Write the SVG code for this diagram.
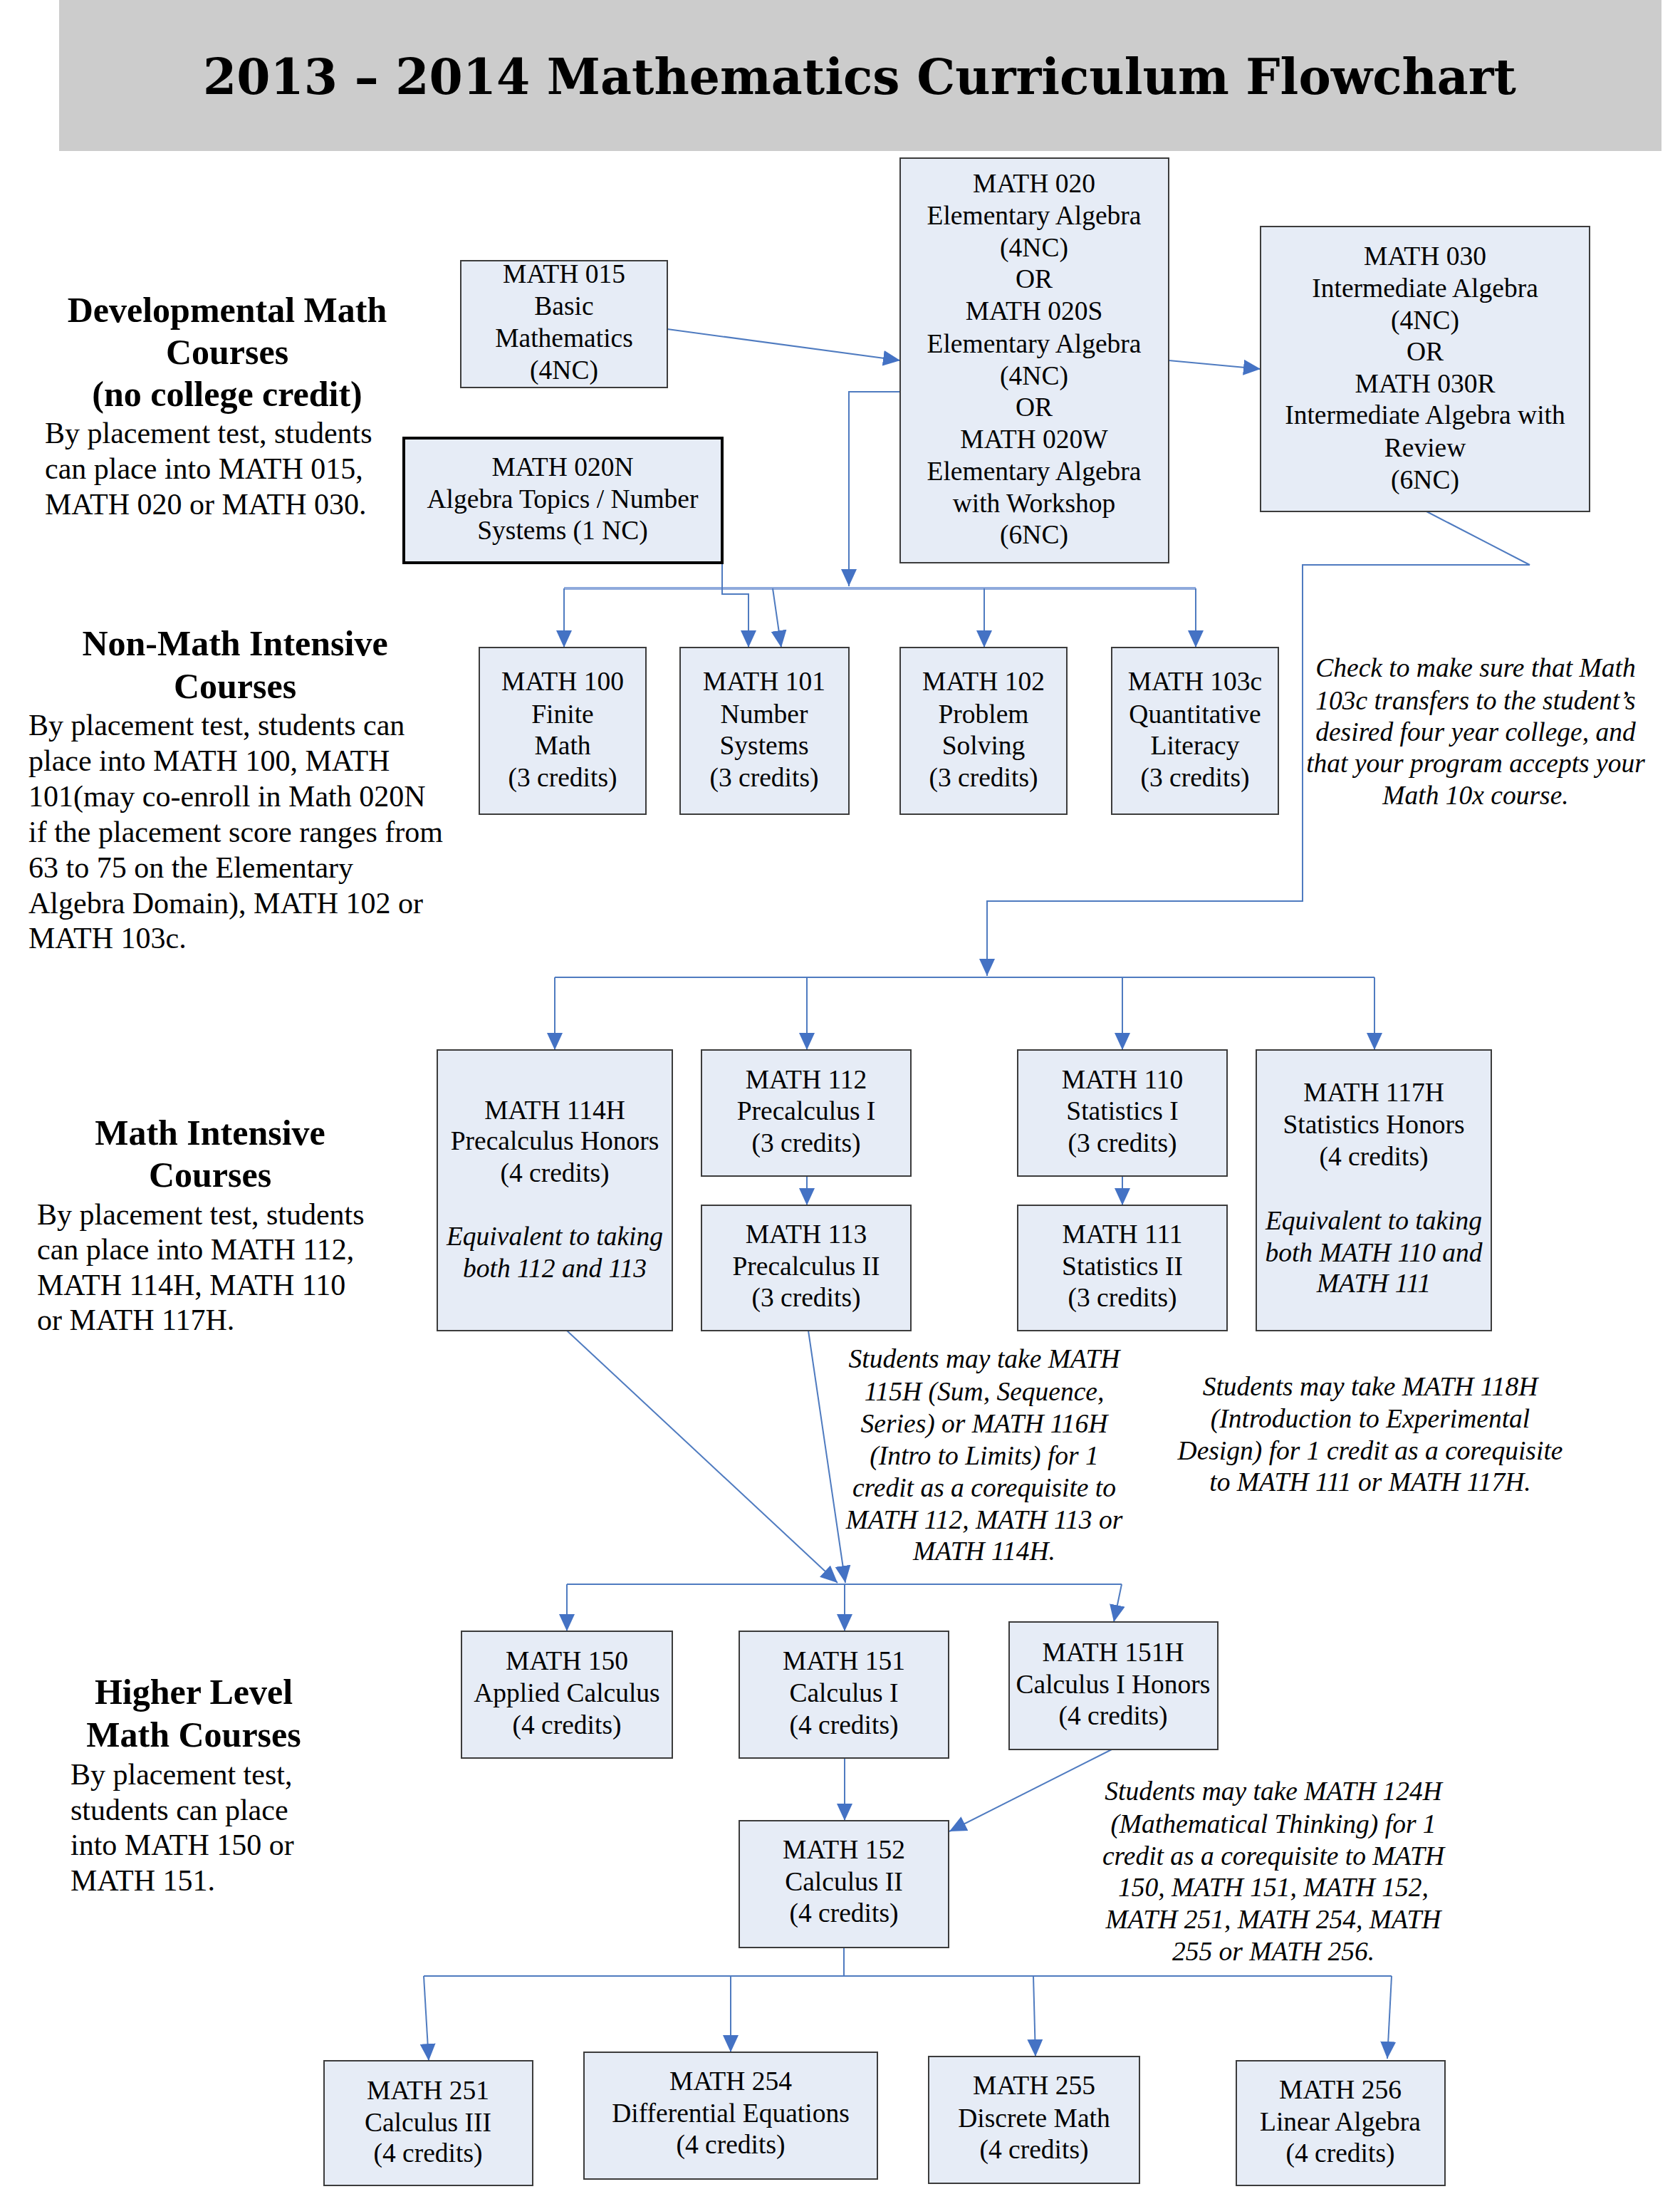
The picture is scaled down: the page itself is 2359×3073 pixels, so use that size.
<svg xmlns="http://www.w3.org/2000/svg" width="2359" height="3073" viewBox="0 0 2359 3073">
<style>
.box{fill:#E6ECF6;stroke:#3c3c3c;stroke-width:2}
.thick{fill:#E6ECF6;stroke:#000;stroke-width:4}
.t{font-family:"Liberation Serif","Times New Roman",serif;font-size:37.5px;fill:#000;text-anchor:middle}
.i{font-style:italic}
.h{font-family:"Liberation Serif","Times New Roman",serif;font-size:50px;font-weight:bold;fill:#000;text-anchor:middle}
.b{font-family:"Liberation Serif","Times New Roman",serif;font-size:42px;fill:#000}
.c{fill:none;stroke:#4F7BC0;stroke-width:2}
.cl{fill:none;stroke:#8FAADC;stroke-width:4}
</style>
<defs>
<marker id="ah" viewBox="0 0 24 22" refX="24" refY="11" markerWidth="24" markerHeight="22" markerUnits="userSpaceOnUse" orient="auto">
<path d="M0,0 L24,11 L0,22 z" fill="#4472C4"/>
</marker>
</defs>
<rect x="83" y="0" width="2250" height="212" fill="#CCCCCC"/>
<text x="1207" y="132" font-family="DejaVu Serif, serif" font-weight="bold" font-size="70" text-anchor="middle" textLength="1844" lengthAdjust="spacingAndGlyphs">2013 – 2014 Mathematics Curriculum Flowchart</text>

<g id="sec-dev">
<text class="h" x="319" y="452">Developmental Math</text>
<text class="h" x="319" y="511">Courses</text>
<text class="h" x="319" y="570">(no college credit)</text>
<text class="b" x="63" y="622">By placement test, students</text>
<text class="b" x="63" y="672">can place into MATH 015,</text>
<text class="b" x="63" y="722">MATH 020 or MATH 030.</text>
</g>
<g id="sec-nonmath">
<text class="h" x="330" y="920">Non-Math Intensive</text>
<text class="h" x="330" y="980">Courses</text>
<text class="b" x="40" y="1032">By placement test, students can</text>
<text class="b" x="40" y="1082">place into MATH 100, MATH</text>
<text class="b" x="40" y="1132">101(may co-enroll in Math 020N</text>
<text class="b" x="40" y="1182">if the placement score ranges from</text>
<text class="b" x="40" y="1232">63 to 75 on the Elementary</text>
<text class="b" x="40" y="1282">Algebra Domain), MATH 102 or</text>
<text class="b" x="40" y="1331">MATH 103c.</text>
</g>
<g id="sec-intensive">
<text class="h" x="295" y="1607">Math Intensive</text>
<text class="h" x="295" y="1666">Courses</text>
<text class="b" x="52" y="1719">By placement test, students</text>
<text class="b" x="52" y="1768">can place into MATH 112,</text>
<text class="b" x="52" y="1818">MATH 114H, MATH 110</text>
<text class="b" x="52" y="1867">or MATH 117H.</text>
</g>
<g id="sec-higher">
<text class="h" x="272" y="2392">Higher Level</text>
<text class="h" x="272" y="2452">Math Courses</text>
<text class="b" x="99" y="2505">By placement test,</text>
<text class="b" x="99" y="2555">students can place</text>
<text class="b" x="99" y="2604">into MATH 150 or</text>
<text class="b" x="99" y="2654">MATH 151.</text>
</g>

<g id="connectors">
<line class="c" x1="937" y1="462" x2="1264" y2="506" marker-end="url(#ah)"/>
<line class="c" x1="1641" y1="506" x2="1770" y2="518" marker-end="url(#ah)"/>
<polyline class="c" points="1264,550 1192,550 1192,823" marker-end="url(#ah)"/>
<line class="cl" x1="792" y1="826" x2="1679" y2="826"/>
<polyline class="c" points="792,826 792,909" marker-end="url(#ah)"/>
<polyline class="c" points="1679,826 1679,909" marker-end="url(#ah)"/>
<polyline class="c" points="1382,826 1382,909" marker-end="url(#ah)"/>
<line class="c" x1="1085" y1="826" x2="1097" y2="909" marker-end="url(#ah)"/>
<polyline class="c" points="1014,790 1014,834 1051,834 1051,909" marker-end="url(#ah)"/>
<polyline class="c" points="2003,718 2148,793 1829,793 1829,1265 1386,1265 1386,1370" marker-end="url(#ah)"/>
<line class="c" x1="779" y1="1372" x2="1930" y2="1372"/>
<polyline class="c" points="779,1372 779,1474" marker-end="url(#ah)"/>
<polyline class="c" points="1133,1372 1133,1474" marker-end="url(#ah)"/>
<polyline class="c" points="1576,1372 1576,1474" marker-end="url(#ah)"/>
<polyline class="c" points="1930,1372 1930,1474" marker-end="url(#ah)"/>
<line class="c" x1="1133" y1="1651" x2="1133" y2="1692" marker-end="url(#ah)"/>
<line class="c" x1="1576" y1="1651" x2="1576" y2="1692" marker-end="url(#ah)"/>
<line class="c" x1="796" y1="1868" x2="1176" y2="2222" marker-end="url(#ah)"/>
<line class="c" x1="1135" y1="1868" x2="1187" y2="2222" marker-end="url(#ah)"/>
<line class="c" x1="796" y1="2224" x2="1575" y2="2224"/>
<polyline class="c" points="796,2224 796,2290" marker-end="url(#ah)"/>
<polyline class="c" points="1186,2224 1186,2290" marker-end="url(#ah)"/>
<polyline class="c" points="1575,2224 1564,2277" marker-end="url(#ah)"/>
<line class="c" x1="1186" y1="2468" x2="1186" y2="2556" marker-end="url(#ah)"/>
<line class="c" x1="1561" y1="2456" x2="1333" y2="2571" marker-end="url(#ah)"/>
<line class="c" x1="1185" y1="2734" x2="1185" y2="2774"/>
<line class="c" x1="595" y1="2774" x2="1954" y2="2774"/>
<line class="c" x1="595" y1="2774" x2="602" y2="2893" marker-end="url(#ah)"/>
<line class="c" x1="1026" y1="2774" x2="1026" y2="2881" marker-end="url(#ah)"/>
<line class="c" x1="1451" y1="2774" x2="1454" y2="2887" marker-end="url(#ah)"/>
<line class="c" x1="1954" y1="2774" x2="1948" y2="2890" marker-end="url(#ah)"/>
</g>

<g id="math015">
<rect class="box" x="647" y="366" width="290" height="178"/>
<text class="t" x="792" y="397">MATH 015</text>
<text class="t" x="792" y="442">Basic</text>
<text class="t" x="792" y="487">Mathematics</text>
<text class="t" x="792" y="532">(4NC)</text>
</g>
<g id="math020n">
<rect class="thick" x="567" y="615" width="447" height="175"/>
<text class="t" x="790" y="668">MATH 020N</text>
<text class="t" x="790" y="713">Algebra Topics / Number</text>
<text class="t" x="790" y="757">Systems (1 NC)</text>
</g>
<g id="math020">
<rect class="box" x="1264" y="222" width="377" height="568"/>
<text class="t" x="1452" y="270">MATH 020</text>
<text class="t" x="1452" y="315">Elementary Algebra</text>
<text class="t" x="1452" y="360">(4NC)</text>
<text class="t" x="1452" y="404">OR</text>
<text class="t" x="1452" y="449">MATH 020S</text>
<text class="t" x="1452" y="495">Elementary Algebra</text>
<text class="t" x="1452" y="540">(4NC)</text>
<text class="t" x="1452" y="584">OR</text>
<text class="t" x="1452" y="629">MATH 020W</text>
<text class="t" x="1452" y="674">Elementary Algebra</text>
<text class="t" x="1452" y="719">with Workshop</text>
<text class="t" x="1452" y="763">(6NC)</text>
</g>
<g id="math030">
<rect class="box" x="1770" y="318" width="462" height="400"/>
<text class="t" x="2001" y="372">MATH 030</text>
<text class="t" x="2001" y="417">Intermediate Algebra</text>
<text class="t" x="2001" y="462">(4NC)</text>
<text class="t" x="2001" y="506">OR</text>
<text class="t" x="2001" y="551">MATH 030R</text>
<text class="t" x="2001" y="595">Intermediate Algebra with</text>
<text class="t" x="2001" y="641">Review</text>
<text class="t" x="2001" y="686">(6NC)</text>
</g>

<g id="math100">
<rect class="box" x="673" y="909" width="234" height="234"/>
<text class="t" x="790" y="969">MATH 100</text>
<text class="t" x="790" y="1015">Finite</text>
<text class="t" x="790" y="1059">Math</text>
<text class="t" x="790" y="1104">(3 credits)</text>
</g>
<g id="math101">
<rect class="box" x="955" y="909" width="237" height="234"/>
<text class="t" x="1073" y="969">MATH 101</text>
<text class="t" x="1073" y="1015">Number</text>
<text class="t" x="1073" y="1059">Systems</text>
<text class="t" x="1073" y="1104">(3 credits)</text>
</g>
<g id="math102">
<rect class="box" x="1264" y="909" width="234" height="234"/>
<text class="t" x="1381" y="969">MATH 102</text>
<text class="t" x="1381" y="1015">Problem</text>
<text class="t" x="1381" y="1059">Solving</text>
<text class="t" x="1381" y="1104">(3 credits)</text>
</g>
<g id="math103c">
<rect class="box" x="1561" y="909" width="234" height="234"/>
<text class="t" x="1678" y="969">MATH 103c</text>
<text class="t" x="1678" y="1015">Quantitative</text>
<text class="t" x="1678" y="1059">Literacy</text>
<text class="t" x="1678" y="1104">(3 credits)</text>
</g>
<g id="note-103c">
<text class="t i" x="2072" y="950">Check to make sure that Math</text>
<text class="t i" x="2072" y="996">103c transfers to the student’s</text>
<text class="t i" x="2072" y="1040">desired four year college, and</text>
<text class="t i" x="2072" y="1084">that your program accepts your</text>
<text class="t i" x="2072" y="1129">Math 10x course.</text>
</g>

<g id="math114h">
<rect class="box" x="614" y="1474" width="330" height="394"/>
<text class="t" x="779" y="1571">MATH 114H</text>
<text class="t" x="779" y="1614">Precalculus Honors</text>
<text class="t" x="779" y="1659">(4 credits)</text>
<text class="t i" x="779" y="1748">Equivalent to taking</text>
<text class="t i" x="779" y="1793">both 112 and 113</text>
</g>
<g id="math112">
<rect class="box" x="985" y="1474" width="294" height="177"/>
<text class="t" x="1132" y="1528">MATH 112</text>
<text class="t" x="1132" y="1572">Precalculus I</text>
<text class="t" x="1132" y="1617">(3 credits)</text>
</g>
<g id="math113">
<rect class="box" x="985" y="1692" width="294" height="176"/>
<text class="t" x="1132" y="1745">MATH 113</text>
<text class="t" x="1132" y="1790">Precalculus II</text>
<text class="t" x="1132" y="1834">(3 credits)</text>
</g>
<g id="math110">
<rect class="box" x="1429" y="1474" width="294" height="177"/>
<text class="t" x="1576" y="1528">MATH 110</text>
<text class="t" x="1576" y="1572">Statistics I</text>
<text class="t" x="1576" y="1617">(3 credits)</text>
</g>
<g id="math111">
<rect class="box" x="1429" y="1692" width="294" height="176"/>
<text class="t" x="1576" y="1745">MATH 111</text>
<text class="t" x="1576" y="1790">Statistics II</text>
<text class="t" x="1576" y="1834">(3 credits)</text>
</g>
<g id="math117h">
<rect class="box" x="1764" y="1474" width="330" height="394"/>
<text class="t" x="1929" y="1546">MATH 117H</text>
<text class="t" x="1929" y="1591">Statistics Honors</text>
<text class="t" x="1929" y="1636">(4 credits)</text>
<text class="t i" x="1929" y="1726">Equivalent to taking</text>
<text class="t i" x="1929" y="1771">both MATH 110 and</text>
<text class="t i" x="1929" y="1814">MATH 111</text>
</g>
<g id="note-115h">
<text class="t i" x="1382" y="1920">Students may take MATH</text>
<text class="t i" x="1382" y="1966">115H (Sum, Sequence,</text>
<text class="t i" x="1382" y="2011">Series) or MATH 116H</text>
<text class="t i" x="1382" y="2056">(Intro to Limits) for 1</text>
<text class="t i" x="1382" y="2101">credit as a corequisite to</text>
<text class="t i" x="1382" y="2146">MATH 112, MATH 113 or</text>
<text class="t i" x="1382" y="2190">MATH 114H.</text>
</g>
<g id="note-118h">
<text class="t i" x="1924" y="1959">Students may take MATH 118H</text>
<text class="t i" x="1924" y="2004">(Introduction to Experimental</text>
<text class="t i" x="1924" y="2049">Design) for 1 credit as a corequisite</text>
<text class="t i" x="1924" y="2093">to MATH 111 or MATH 117H.</text>
</g>

<g id="math150">
<rect class="box" x="648" y="2290" width="296" height="178"/>
<text class="t" x="796" y="2344">MATH 150</text>
<text class="t" x="796" y="2389">Applied Calculus</text>
<text class="t" x="796" y="2434">(4 credits)</text>
</g>
<g id="math151">
<rect class="box" x="1038" y="2290" width="294" height="178"/>
<text class="t" x="1185" y="2344">MATH 151</text>
<text class="t" x="1185" y="2389">Calculus I</text>
<text class="t" x="1185" y="2434">(4 credits)</text>
</g>
<g id="math151h">
<rect class="box" x="1417" y="2277" width="293" height="179"/>
<text class="t" x="1563" y="2332">MATH 151H</text>
<text class="t" x="1563" y="2377">Calculus I Honors</text>
<text class="t" x="1563" y="2421">(4 credits)</text>
</g>
<g id="math152">
<rect class="box" x="1038" y="2556" width="294" height="178"/>
<text class="t" x="1185" y="2609">MATH 152</text>
<text class="t" x="1185" y="2654">Calculus II</text>
<text class="t" x="1185" y="2698">(4 credits)</text>
</g>
<g id="note-124h">
<text class="t i" x="1788" y="2527">Students may take MATH 124H</text>
<text class="t i" x="1788" y="2573">(Mathematical Thinking) for 1</text>
<text class="t i" x="1788" y="2618">credit as a corequisite to MATH</text>
<text class="t i" x="1788" y="2662">150, MATH 151, MATH 152,</text>
<text class="t i" x="1788" y="2707">MATH 251, MATH 254, MATH</text>
<text class="t i" x="1788" y="2752">255 or MATH 256.</text>
</g>

<g id="math251">
<rect class="box" x="455" y="2893" width="293" height="175"/>
<text class="t" x="601" y="2947">MATH 251</text>
<text class="t" x="601" y="2992">Calculus III</text>
<text class="t" x="601" y="3035">(4 credits)</text>
</g>
<g id="math254">
<rect class="box" x="820" y="2881" width="412" height="178"/>
<text class="t" x="1026" y="2934">MATH 254</text>
<text class="t" x="1026" y="2979">Differential Equations</text>
<text class="t" x="1026" y="3023">(4 credits)</text>
</g>
<g id="math255">
<rect class="box" x="1304" y="2887" width="296" height="178"/>
<text class="t" x="1452" y="2940">MATH 255</text>
<text class="t" x="1452" y="2986">Discrete Math</text>
<text class="t" x="1452" y="3030">(4 credits)</text>
</g>
<g id="math256">
<rect class="box" x="1736" y="2893" width="293" height="175"/>
<text class="t" x="1882" y="2946">MATH 256</text>
<text class="t" x="1882" y="2991">Linear Algebra</text>
<text class="t" x="1882" y="3035">(4 credits)</text>
</g>
</svg>
